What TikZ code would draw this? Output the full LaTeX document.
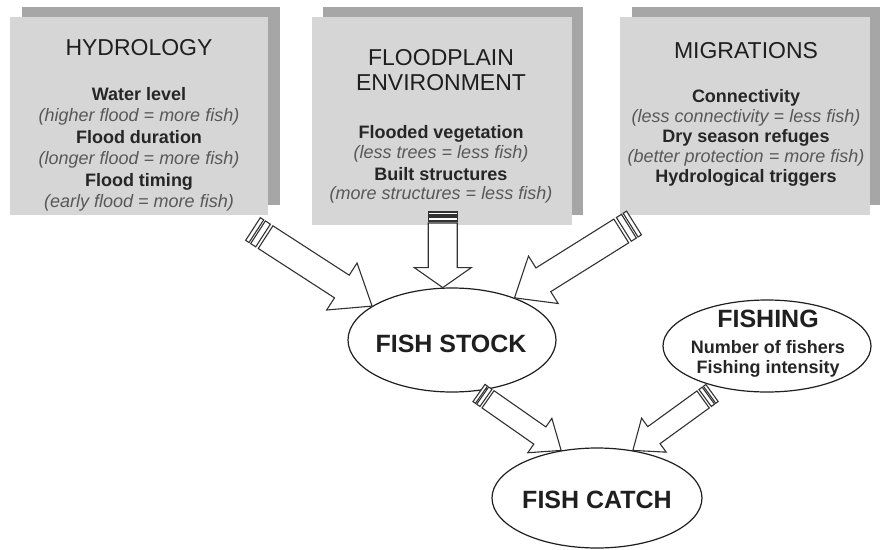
\documentclass[tikz,border=0pt]{standalone}
\usepackage{fontspec}
\setmainfont{Liberation Sans}
\usetikzlibrary{shapes.geometric,calc}
\definecolor{boxfront}{RGB}{214,214,214}
\definecolor{boxshadow}{RGB}{166,166,166}
\definecolor{titlecol}{RGB}{30,30,30}
\definecolor{boldcol}{RGB}{38,38,38}
\definecolor{itcol}{RGB}{88,88,88}
\definecolor{arrowcol}{RGB}{50,50,50}
\tikzset{
  frontbox/.style={fill=boxfront, draw=none, inner sep=0pt, outer sep=0pt},
  shadowbox/.style={fill=boxshadow, draw=none, inner sep=0pt, outer sep=0pt},
  ttl/.style={anchor=base, inner sep=0pt, text=titlecol, font=\fontsize{23}{26}\selectfont},
  bld/.style={anchor=base, inner sep=0pt, text=boldcol, font=\fontsize{18}{21}\selectfont\bfseries},
  itl/.style={anchor=base, inner sep=0pt, text=itcol, font=\fontsize{18}{21}\selectfont\itshape},
  ellip/.style={ellipse, draw=black!88, line width=1.2pt, fill=white, inner sep=0pt},
  bigtxt/.style={anchor=base, inner sep=0pt, text=black!88, font=\fontsize{25}{28}\selectfont\bfseries},
  arrowbody/.style={draw=arrowcol, line width=1.1pt, fill=white, line join=miter},
}
% #1 tail, #2 tip, #3 half shaft, #4 half head, #5 head length,
% #6 end of stripe 1, #7 start of stripe 2, #8 end of stripe 2, #9 start of body
\newcommand{\stripedarrow}[9]{%
  \draw[arrowbody] ($(#1)!0pt!(#2)!#3!90:(#2)$) -- ($(#1)!#6!(#2)!#3!90:(#2)$)
     -- ($(#1)!#6!(#2)!#3!-90:(#2)$) -- ($(#1)!0pt!(#2)!#3!-90:(#2)$) -- cycle;
  \draw[arrowbody] ($(#1)!#7!(#2)!#3!90:(#2)$) -- ($(#1)!#8!(#2)!#3!90:(#2)$)
     -- ($(#1)!#8!(#2)!#3!-90:(#2)$) -- ($(#1)!#7!(#2)!#3!-90:(#2)$) -- cycle;
  \draw[arrowbody] ($(#1)!#9!(#2)!#3!90:(#2)$) -- ($(#2)!#5!(#1)!#3!-90:(#1)$)
     -- ($(#2)!#5!(#1)!#4!-90:(#1)$) -- (#2) -- ($(#2)!#5!(#1)!#4!90:(#1)$)
     -- ($(#2)!#5!(#1)!#3!90:(#1)$) -- ($(#1)!#9!(#2)!#3!-90:(#2)$) -- cycle;
}
\begin{document}
\begin{tikzpicture}[x=1pt,y=-1pt]
\useasboundingbox (0,0) rectangle (880,549);
\fill[white] (0,0) rectangle (880,549);

% boxes
\node[shadowbox, minimum width=258pt, minimum height=198pt] (hydsh) at (151,106) {};
\node[frontbox,  minimum width=258pt, minimum height=198pt] (hyd)   at (139,116) {};
\node[shadowbox, minimum width=260pt, minimum height=208pt] (flosh) at (453,111) {};
\node[frontbox,  minimum width=260pt, minimum height=208pt] (flo)   at (442,121) {};
\node[shadowbox, minimum width=250pt, minimum height=198pt] (migsh) at (757,106) {};
\node[frontbox,  minimum width=250pt, minimum height=198pt] (mig)   at (745,116) {};

% hydrology text
\node[ttl] (hT) at (139,55) {HYDROLOGY};
\node[bld] (h1) at (139,100) {Water level};
\node[itl] (h2) at (139,121) {(higher flood = more fish)};
\node[bld] (h3) at (139,143) {Flood duration};
\node[itl] (h4) at (139,164) {(longer flood = more fish)};
\node[bld] (h5) at (139,186) {Flood timing};
\node[itl] (h6) at (139,207) {(early flood = more fish)};

% floodplain text
\node[ttl] (fT1) at (441,65) {FLOODPLAIN};
\node[ttl] (fT2) at (441,90) {ENVIRONMENT};
\node[bld] (f1) at (441,138) {Flooded vegetation};
\node[itl] (f2) at (441,158) {(less trees = less fish)};
\node[bld] (f3) at (441,180) {Built structures};
\node[itl] (f4) at (441,199) {(more structures = less fish)};

% migrations text
\node[ttl] (mT) at (746,58) {MIGRATIONS};
\node[bld] (m1) at (746,102) {Connectivity};
\node[itl] (m2) at (746,122) {(less connectivity = less fish)};
\node[bld] (m3) at (746,142) {Dry season refuges};
\node[itl] (m4) at (746,162) {(better protection = more fish)};
\node[bld] (m5) at (746,182) {Hydrological triggers};

% ellipses
\node[ellip, minimum width=208pt, minimum height=104pt] (stock) at (452,340) {};
\node[ellip, minimum width=210pt, minimum height=100pt] (catch) at (597,498) {};
\node[ellip, minimum width=208pt, minimum height=92pt] (fish) at (767,346) {};
\node[bigtxt] (stockT) at (451,352) {FISH STOCK};
\node[bigtxt] (catchT) at (597,508) {FISH CATCH};
\node[bigtxt] (fishT) at (768,327) {FISHING};
\node[bld, text=black!85] (fish1) at (768,353) {Number of fishers};
\node[bld, text=black!85] (fish2) at (768,373) {Fishing intensity};

% arrows
\coordinate (ta) at (253,229);
\coordinate (tb0) at (0,212);
\coordinate (tb) at (stock.100 |- tb0);
\coordinate (tc) at (634,223);
\coordinate (td) at (479,393);
\coordinate (te) at (712,393);
\stripedarrow{ta}{stock.157}{13.5pt}{28pt}{36pt}{4pt}{6pt}{12pt}{15pt}
\stripedarrow{tb}{stock.100}{14.5pt}{28.5pt}{20pt}{3pt}{5pt}{9pt}{11pt}
\stripedarrow{tc}{stock.34}{14pt}{28pt}{34pt}{4pt}{6pt}{12pt}{15pt}
\stripedarrow{td}{catch.127}{10.5pt}{21pt}{26pt}{3pt}{4.5pt}{8.5pt}{11pt}
\stripedarrow{te}{catch.53}{10.5pt}{21pt}{26pt}{3pt}{4.5pt}{8.5pt}{11pt}
\end{tikzpicture}
\end{document}
